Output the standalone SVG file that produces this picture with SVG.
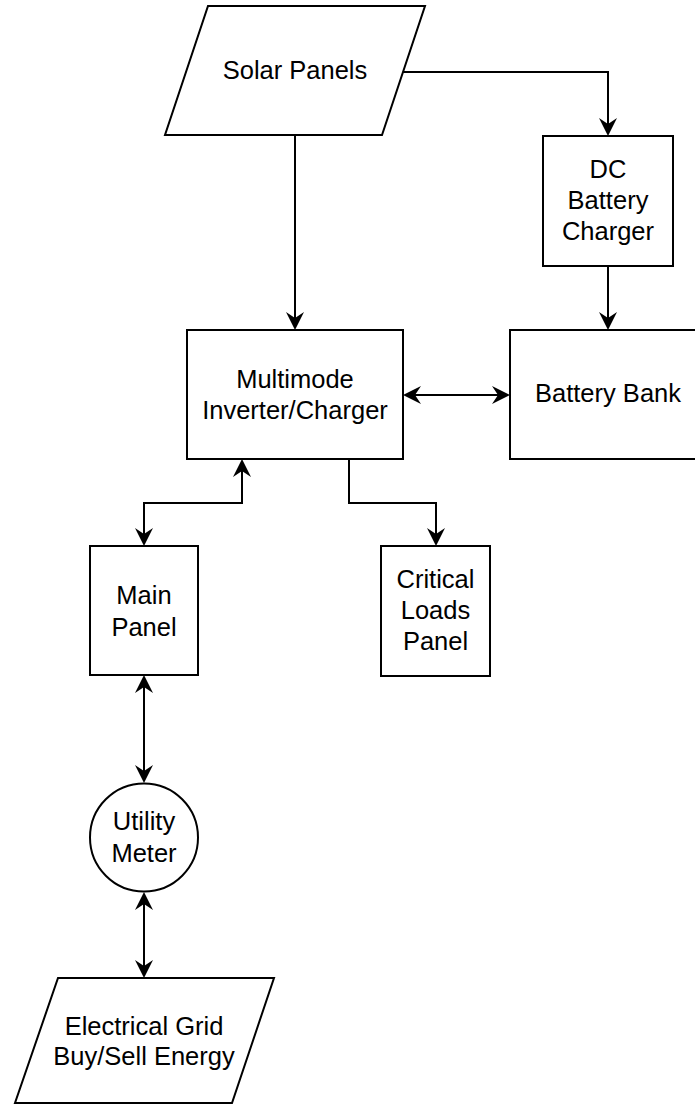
<svg xmlns="http://www.w3.org/2000/svg" width="695" height="1105" viewBox="0 0 695 1105">
<style>
.shape{fill:#fff;stroke:#000;stroke-width:2}
.conn{fill:none;stroke:#000;stroke-width:2}
.lbl{font-family:"Liberation Sans",Arial,Helvetica,sans-serif;font-size:25.5px;fill:#000;text-anchor:middle}
</style>
<defs>
<marker id="arr" viewBox="0 0 18 18" refX="16" refY="9" markerWidth="18" markerHeight="18" markerUnits="userSpaceOnUse" orient="auto-start-reverse">
<path d="M0,0 L18,9 L0,18 L6,9 Z" fill="#000"/>
</marker>
</defs>
<rect width="695" height="1105" fill="#fff"/>
<g id="connectors">
<path class="conn" d="M295,135 V328" marker-end="url(#arr)"/>
<path class="conn" d="M403,72 H608 V134" marker-end="url(#arr)"/>
<path class="conn" d="M608,266 V328" marker-end="url(#arr)"/>
<path class="conn" d="M405,395 H508" marker-start="url(#arr)" marker-end="url(#arr)"/>
<path class="conn" d="M144,544 V503 H242 V461" marker-start="url(#arr)" marker-end="url(#arr)"/>
<path class="conn" d="M349,459 V503 H436 V544" marker-end="url(#arr)"/>
<path class="conn" d="M144,677 V781" marker-start="url(#arr)" marker-end="url(#arr)"/>
<path class="conn" d="M144,894 V976" marker-start="url(#arr)" marker-end="url(#arr)"/>
</g>
<g id="solar-panels">
<polygon class="shape" points="208,6 425,6 382,135 165,135"/>
<text class="lbl" x="295" y="79">Solar Panels</text>
</g>
<g id="dc-battery-charger">
<rect class="shape" x="543" y="136" width="130" height="130"/>
<text class="lbl" x="608" y="178">DC</text>
<text class="lbl" x="608" y="209">Battery</text>
<text class="lbl" x="608" y="240">Charger</text>
</g>
<g id="multimode-inverter">
<rect class="shape" x="187" y="330" width="216" height="129"/>
<text class="lbl" x="295" y="388">Multimode</text>
<text class="lbl" x="295" y="419">Inverter/Charger</text>
</g>
<g id="battery-bank">
<rect class="shape" x="510" y="330" width="216" height="129"/>
<text class="lbl" x="608" y="402">Battery Bank</text>
</g>
<g id="main-panel">
<rect class="shape" x="90" y="546" width="108" height="129"/>
<text class="lbl" x="144" y="604">Main</text>
<text class="lbl" x="144" y="636">Panel</text>
</g>
<g id="critical-loads-panel">
<rect class="shape" x="381" y="546" width="109" height="130"/>
<text class="lbl" x="435.5" y="588">Critical</text>
<text class="lbl" x="435.5" y="619">Loads</text>
<text class="lbl" x="435.5" y="650">Panel</text>
</g>
<g id="utility-meter">
<circle class="shape" cx="144" cy="837.5" r="54"/>
<text class="lbl" x="144" y="830">Utility</text>
<text class="lbl" x="144" y="862">Meter</text>
</g>
<g id="electrical-grid">
<polygon class="shape" points="58,978 274,978 232,1103 15,1103"/>
<text class="lbl" x="144" y="1035">Electrical Grid</text>
<text class="lbl" x="144" y="1065">Buy/Sell Energy</text>
</g>
</svg>
